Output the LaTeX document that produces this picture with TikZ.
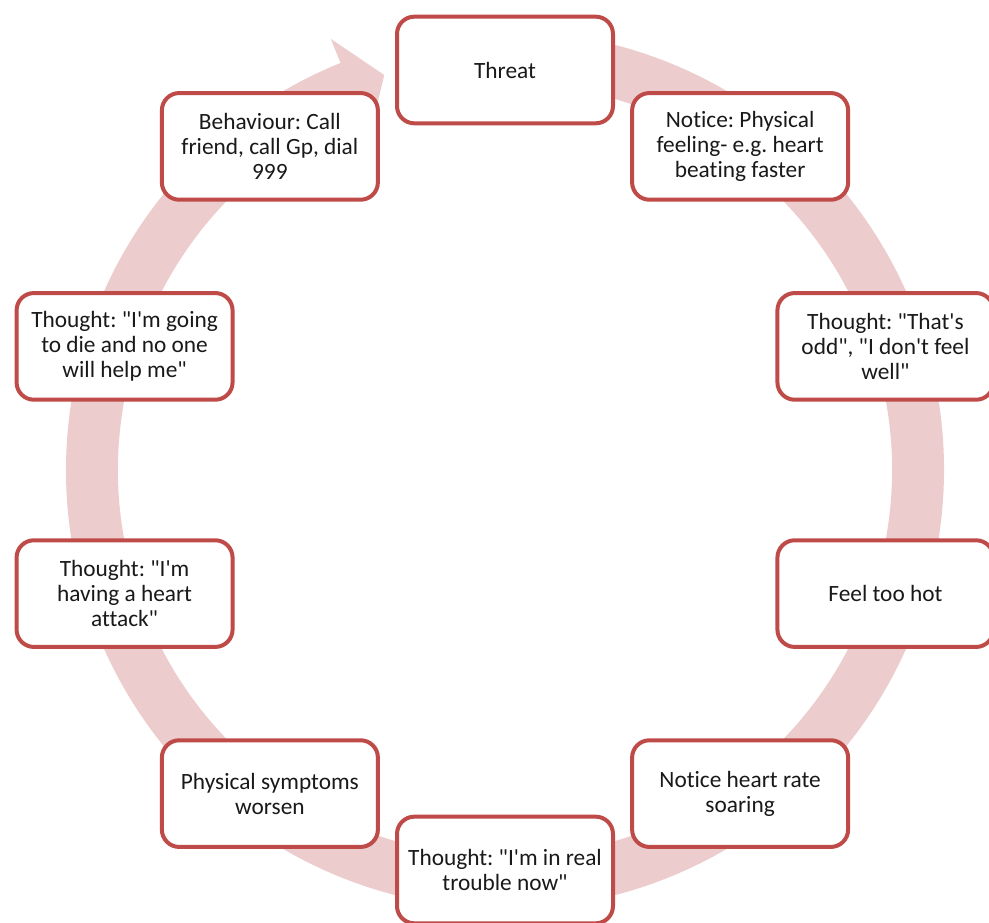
\documentclass[tikz,border=0pt]{standalone}
\usepackage{fontspec}
\setmainfont{Carlito}[Ligatures={TeXOff,NoCommon}]
\frenchspacing
\definecolor{boxred}{HTML}{BE4B48}
\definecolor{ringpink}{RGB}{236,204,204}
\definecolor{txt}{RGB}{25,25,25}
\tikzset{
  stage/.style={draw=boxred,line width=3pt,fill=white,rounded corners=13pt,
    minimum width=162pt,minimum height=80pt,inner sep=2pt,align=center,
    text=txt,font=\fontsize{17.5}{18.75}\selectfont}
}
\begin{document}
\begin{tikzpicture}[x=0.75pt,y=0.75pt]
    \useasboundingbox (0,0) rectangle (989,922);
    \begin{scope}[shift={(505,452)}]
    % the ring, going round clockwise
    \fill[ringpink] (85:439) arc[start angle=85,end angle=-248,radius=439]
      -- (-248:465) -- (-253:413) -- (-248:361) -- (-248:387)
      arc[start angle=-248,end angle=85,radius=387] -- cycle;

    \node (threat) at (90:400) [stage] {Threat};
    \node (notice) at (54:400) [stage] {Notice: Physical\\feeling- e.g. heart\\beating faster};
    \node (odd) at (18:400) [stage] {Thought: "That's\\odd", "I don't feel\\well"};
    \node (hot) at (-18:400) [stage] {Feel too hot};
    \node (soaring) at (-54:400) [stage] {Notice heart rate\\soaring};
    \node (trouble) at (-90:400) [stage] {Thought: "I'm in real\\trouble now"};
    \node (worsen) at (-126:400) [stage] {Physical symptoms\\worsen};
    \node (attack) at (-162:400) [stage] {Thought: "I'm\\having a heart\\attack"};
    \node (die) at (162:400) [stage] {Thought: "I'm going\\to die and no one\\will help me"};
    \node (behaviour) at (126:400) [stage] {Behaviour: Call\\friend, call Gp, dial\\999};
    \end{scope}
  \end{tikzpicture}
\end{document}
